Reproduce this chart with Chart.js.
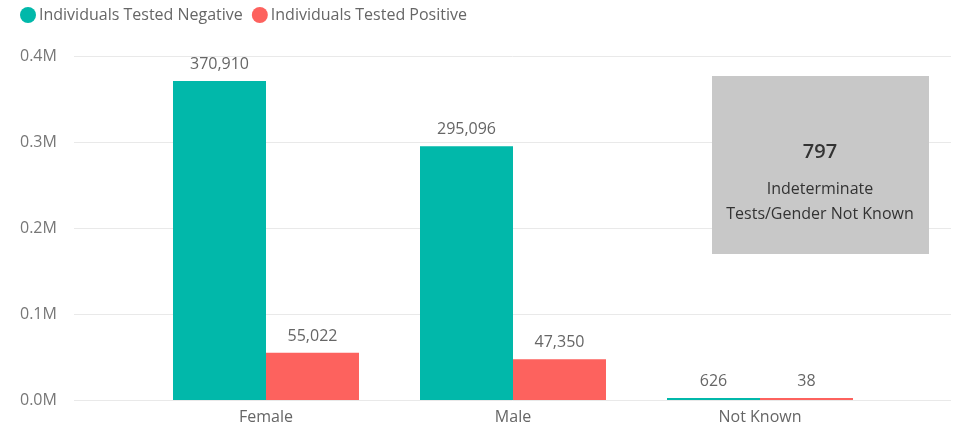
<!DOCTYPE html>
<html>
<head>
<meta charset="utf-8">
<script src="https://cdn.jsdelivr.net/npm/chart.js@4.4.0/dist/chart.umd.min.js"></script>
<style>
  html, body { margin: 0; padding: 0; background: #fff; }
  canvas { display: block; }
</style>
</head>
<body>
<canvas id="chart" width="953" height="429"></canvas>
<script>
const categories = ['Female', 'Male', 'Not Known'];
const negative = [370910, 295096, 626];
const positive = [55022, 47350, 38];
const yTicks = [0, 100000, 200000, 300000, 400000];
const cardValue = 797;
const cardLabel = ['Indeterminate', 'Tests/Gender Not Known'];

const FONT = '"Open Sans", "Noto Sans", sans-serif';

// gridlines run wider than the category area, so draw them by hand
const gridPlugin = {
  id: 'grid',
  beforeDatasetsDraw(chart) {
    const c = chart.ctx;
    const y = chart.scales.y;
    c.save();
    c.strokeStyle = '#e9e9e9';
    c.lineWidth = 1;
    y.ticks.forEach(t => {
      const py = Math.round(y.getPixelForValue(t.value)) + 0.5;
      c.beginPath();
      c.moveTo(74, py);
      c.lineTo(951, py);
      c.stroke();
    });
    c.restore();
  }
};

const labelPlugin = {
  id: 'valueLabels',
  afterDatasetsDraw(chart) {
    const c = chart.ctx;
    c.save();
    c.font = '16px ' + FONT;
    c.fillStyle = '#666';
    c.textAlign = 'center';
    c.textBaseline = 'alphabetic';
    chart.data.datasets.forEach((ds, i) => {
      chart.getDatasetMeta(i).data.forEach((bar, j) => {
        c.fillText(ds.data[j].toLocaleString('en-US'), bar.x, bar.y - 12);
      });
    });
    c.restore();
  }
};

const legendPlugin = {
  id: 'customLegend',
  afterDraw(chart) {
    const c = chart.ctx;
    c.save();
    c.font = '16px ' + FONT;
    c.textBaseline = 'middle';
    let x = 20;
    chart.data.datasets.forEach(ds => {
      c.fillStyle = ds.backgroundColor;
      c.beginPath();
      c.arc(x + 8, 15, 8, 0, Math.PI * 2);
      c.fill();
      c.fillStyle = '#666';
      c.fillText(ds.label, x + 19, 15);
      x += 19 + c.measureText(ds.label).width + 9;
    });
    c.restore();
  }
};

const cardPlugin = {
  id: 'card',
  afterDraw(chart) {
    const c = chart.ctx;
    c.save();
    c.fillStyle = '#c8c8c8';
    c.fillRect(712, 76, 217, 178);
    c.textAlign = 'center';
    c.textBaseline = 'middle';
    c.fillStyle = '#333';
    c.font = '600 20px ' + FONT;
    c.fillText(String(cardValue), 820, 152);
    c.font = '16px ' + FONT;
    c.fillText(cardLabel[0], 820, 189);
    c.fillText(cardLabel[1], 820, 214);
    c.restore();
  }
};

const ctx = document.getElementById('chart').getContext('2d');
const chart = new Chart(ctx, {
  type: 'bar',
  data: {
    labels: categories,
    datasets: [
      {
        label: 'Individuals Tested Negative',
        data: negative,
        backgroundColor: '#01B8AA',
        minBarLength: 2
      },
      {
        label: 'Individuals Tested Positive',
        data: positive,
        backgroundColor: '#FD625E',
        minBarLength: 2
      }
    ]
  },
  options: {
    responsive: false,
    animation: false,
    layout: { padding: { top: 56, right: 69.5, bottom: 0, left: 20 } },
    datasets: {
      bar: { categoryPercentage: 0.753, barPercentage: 1 }
    },
    scales: {
      x: {
        grid: { display: false, drawTicks: false },
        border: { display: false },
        ticks: { color: '#666', font: { family: FONT, size: 16 }, padding: 8 },
        afterFit(s) { s.height = 29; }
      },
      y: {
        min: 0,
        max: 400000,
        afterBuildTicks(s) { s.ticks = yTicks.map(v => ({ value: v })); },
        grid: { display: false, drawTicks: false },
        border: { display: false },
        ticks: {
          color: '#777',
          font: { family: FONT, size: 16 },
          padding: 0,
          crossAlign: 'far',
          callback: v => (v / 1000000).toFixed(1) + 'M'
        },
        afterFit(s) { s.width = 122.5; }
      }
    },
    plugins: {
      legend: { display: false },
      tooltip: { enabled: false }
    }
  },
  plugins: [gridPlugin, labelPlugin, legendPlugin, cardPlugin]
});
</script>
</body>
</html>
